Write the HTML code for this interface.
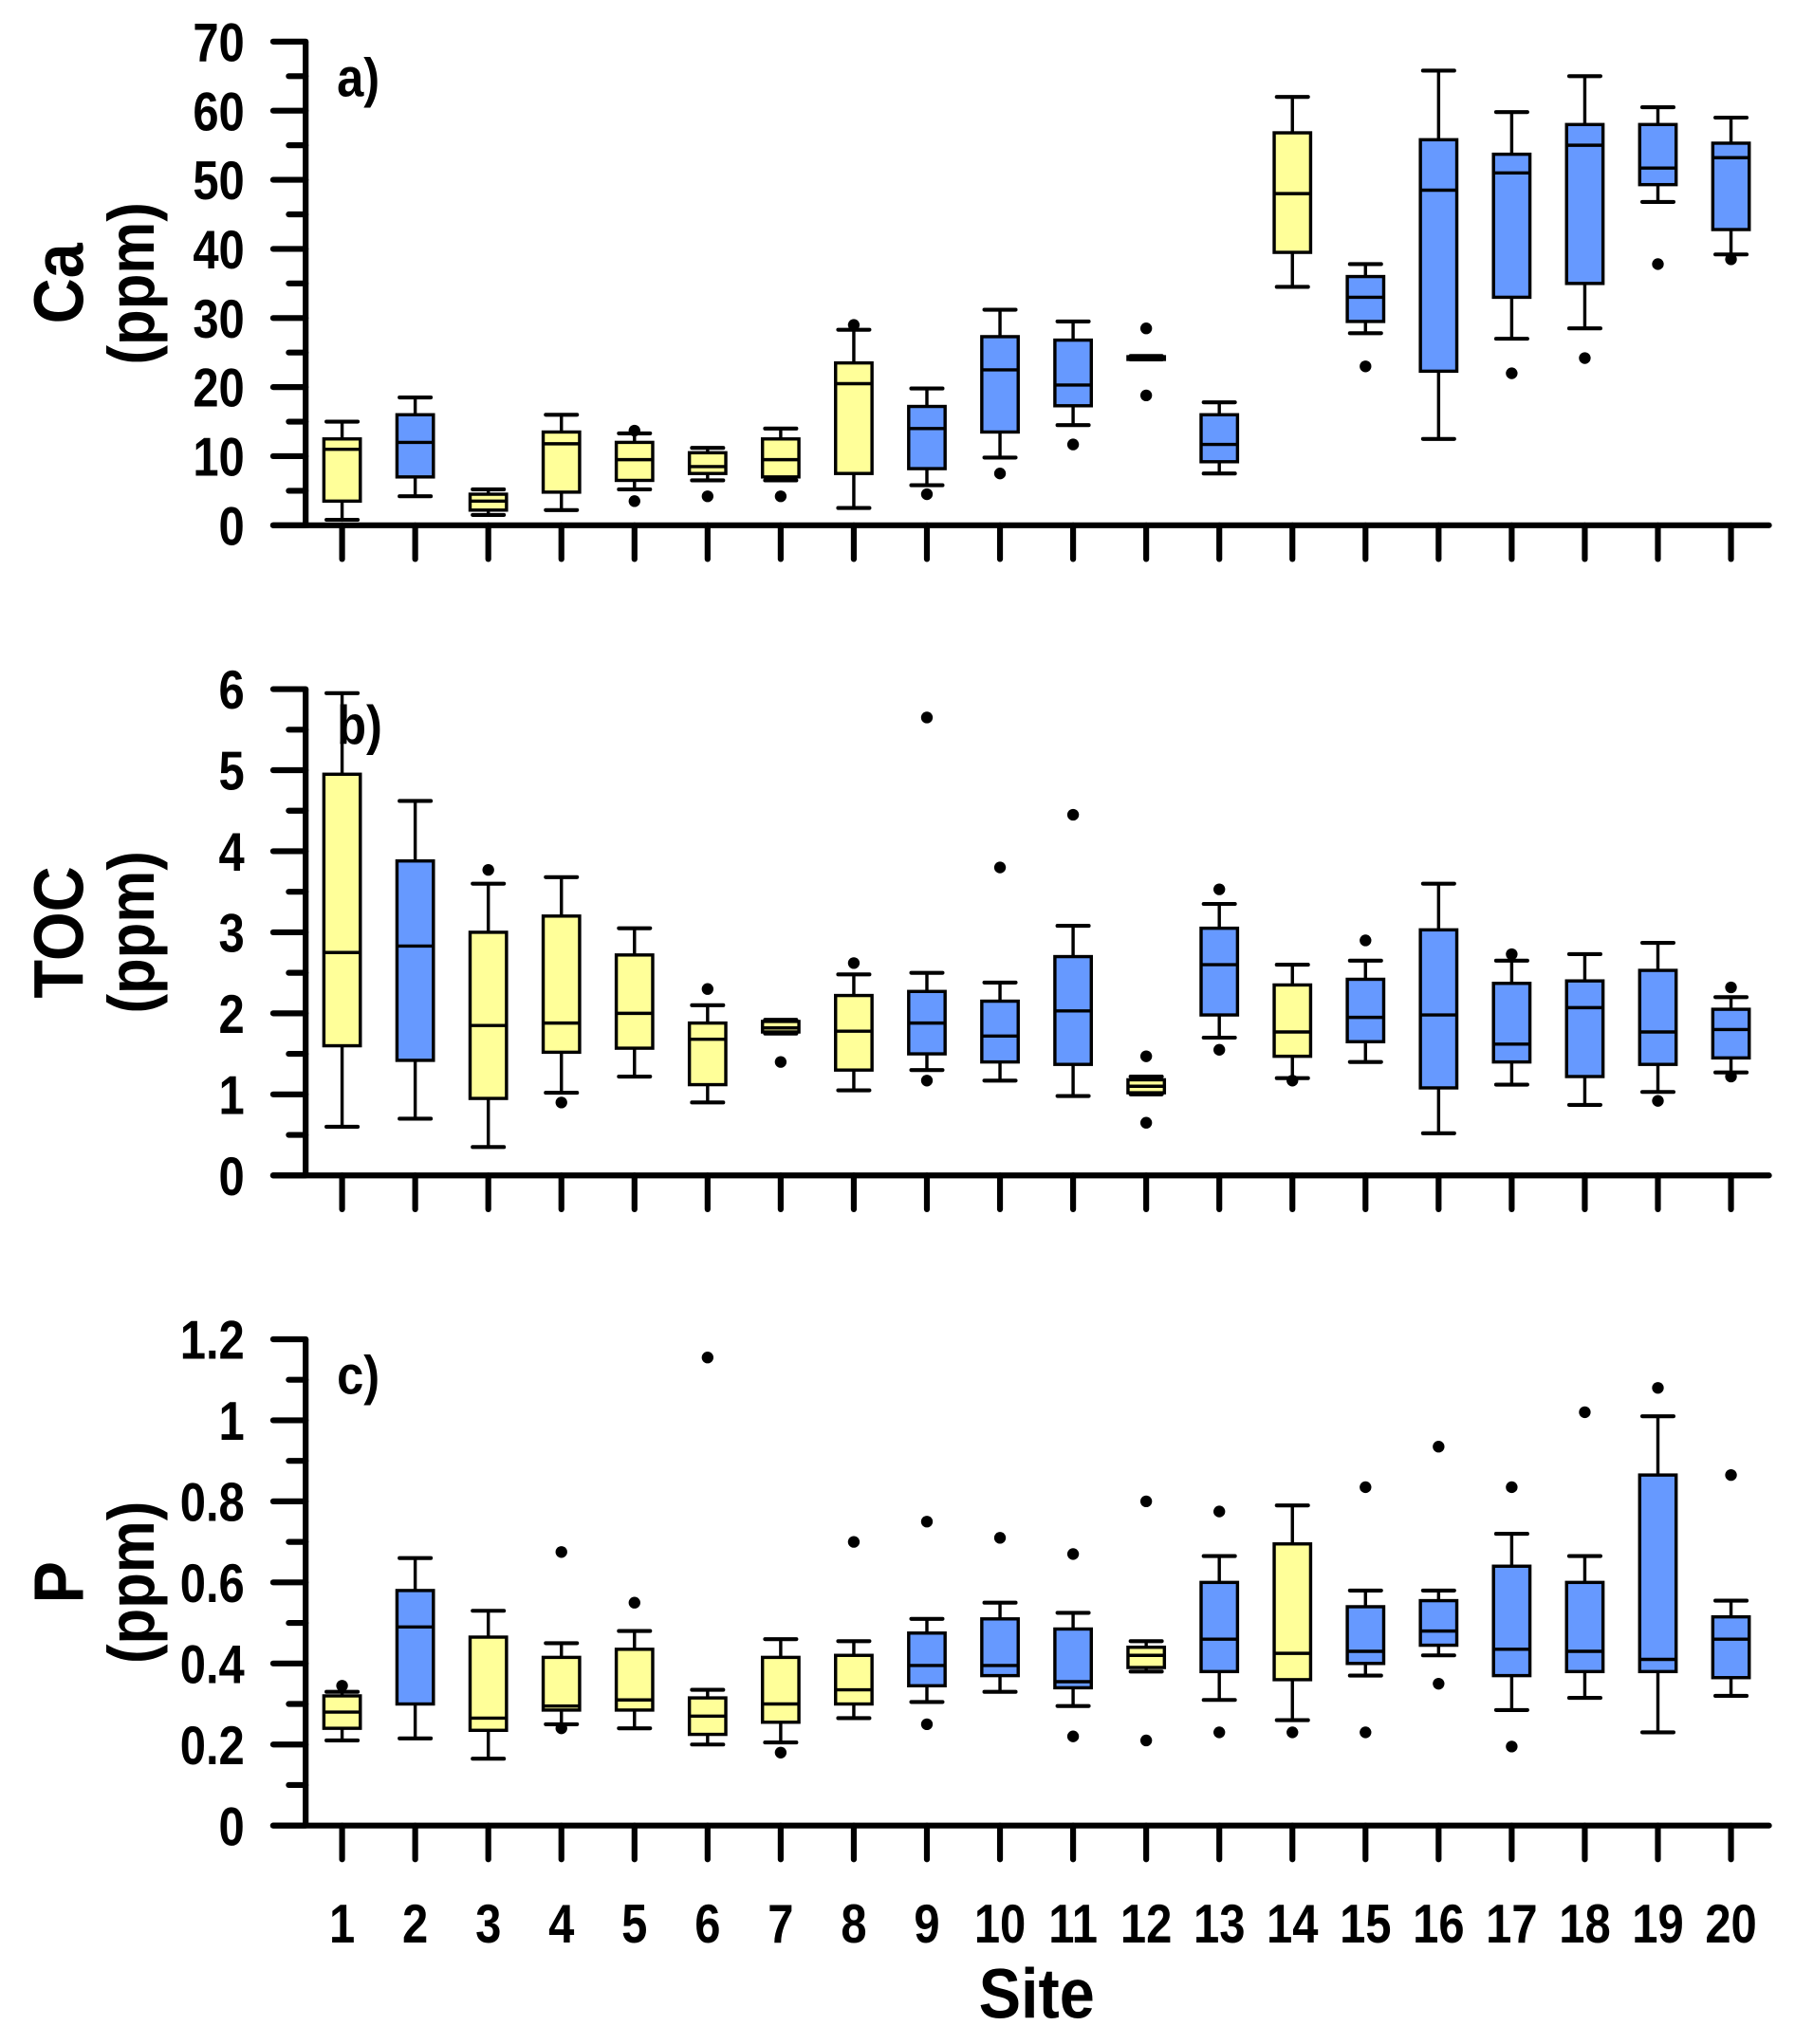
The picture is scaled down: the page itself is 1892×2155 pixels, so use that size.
<!DOCTYPE html>
<html><head><meta charset="utf-8"><style>
html,body{margin:0;padding:0;background:#fff;}
svg{display:block;}
text{font-family:"Liberation Sans",Arial,sans-serif;font-weight:bold;fill:#000;}
</style></head><body>
<svg id="chart" width="1892" height="2155" viewBox="0 0 1380 1572" preserveAspectRatio="none" xmlns="http://www.w3.org/2000/svg"></svg>
<script>
const sites = [1,2,3,4,5,6,7,8,9,10,11,12,13,14,15,16,17,18,19,20];
const siteGroup = ['y','b','y','y','y','y','y','y','b','b','b','y','b','y','b','b','b','b','b','b'];
// [low whisker, q1, median, q3, high whisker]
const caStats = [[0.8,3.5,11,12.5,15],[4.2,7,12,16,18.5],[1.5,2.2,3.5,4.5,5.2],[2.2,4.8,11.8,13.5,16],[5.2,6.5,9.5,12,13.3],[6.5,7.5,8.5,10.5,11.2],[6.5,7,9.5,12.5,14],[2.5,7.5,20.5,23.5,28.3],[5.8,8.2,14,17.2,19.8],[9.8,13.5,22.5,27.3,31.2],[14.5,17.3,20.3,26.8,29.5],[24,24,24.2,24.4,24.5],[7.5,9.2,11.7,16,17.8],[34.5,39.5,48,56.8,62],[27.8,29.5,33,36,37.8],[12.5,22.3,48.5,55.8,65.8],[27,33,51,53.7,59.8],[28.5,35,55,58,65],[46.8,49.3,51.7,58,60.5],[39.2,42.8,53.2,55.3,59]];
const caOut = [[],[],[],[],[3.5,13.7],[4.2],[4.2],[29],[4.5],[7.5],[11.7],[28.5,18.8],[],[],[23],[],[22],[24.2],[37.8],[38.5]];
const tocStats = [[0.6,1.6,2.75,4.95,5.95],[0.7,1.42,2.83,3.88,4.62],[0.35,0.95,1.85,3.0,3.6],[1.02,1.52,1.88,3.2,3.68],[1.22,1.57,2.0,2.72,3.05],[0.9,1.12,1.68,1.88,2.1],[1.75,1.77,1.82,1.9,1.92],[1.05,1.3,1.78,2.22,2.48],[1.3,1.5,1.88,2.27,2.5],[1.17,1.4,1.72,2.15,2.38],[0.98,1.37,2.03,2.7,3.08],[1.0,1.02,1.1,1.18,1.22],[1.7,1.98,2.6,3.05,3.35],[1.2,1.47,1.77,2.35,2.6],[1.4,1.65,1.95,2.42,2.65],[0.52,1.08,1.98,3.03,3.6],[1.12,1.4,1.62,2.37,2.65],[0.87,1.22,2.07,2.4,2.73],[1.03,1.37,1.77,2.53,2.87],[1.27,1.45,1.8,2.05,2.2]];
const tocOut = [[],[],[3.77],[0.9],[],[2.3],[1.4],[2.62],[5.65,1.17],[3.8],[4.45],[1.47,0.65],[3.53,1.55],[1.17],[2.9],[],[2.73],[],[0.92],[2.32,1.22]];
const pStats = [[0.21,0.24,0.28,0.32,0.33],[0.215,0.3,0.49,0.58,0.66],[0.165,0.235,0.265,0.465,0.53],[0.25,0.285,0.295,0.415,0.45],[0.24,0.285,0.31,0.435,0.48],[0.2,0.225,0.27,0.315,0.335],[0.205,0.255,0.3,0.415,0.46],[0.265,0.3,0.335,0.42,0.455],[0.305,0.345,0.395,0.475,0.51],[0.33,0.37,0.395,0.51,0.55],[0.295,0.34,0.355,0.485,0.525],[0.38,0.39,0.42,0.44,0.455],[0.31,0.38,0.46,0.6,0.665],[0.26,0.36,0.425,0.695,0.79],[0.37,0.4,0.43,0.54,0.58],[0.42,0.445,0.48,0.555,0.58],[0.285,0.37,0.435,0.64,0.72],[0.315,0.38,0.43,0.6,0.665],[0.23,0.38,0.41,0.865,1.01],[0.32,0.365,0.46,0.515,0.555]];
const pOut = [[0.345],[],[],[0.675,0.24],[0.55],[1.155],[0.18],[0.7],[0.75,0.25],[0.71],[0.67,0.22],[0.8,0.21],[0.775,0.23],[0.23],[0.835,0.23],[0.935,0.35],[0.835,0.195],[1.02],[1.08],[0.865]];
const caTicks = ['0','10','20','30','40','50','60','70'];
const tocTicks = ['0','1','2','3','4','5','6'];
const pTicks = ['0','0.2','0.4','0.6','0.8','1','1.2'];

const NS='http://www.w3.org/2000/svg';
const svg=document.getElementById('chart');
function mk(tag,attrs,parent){const e=document.createElementNS(NS,tag);for(const k in attrs)e.setAttribute(k,attrs[k]);(parent||svg).appendChild(e);return e;}
function txt(parent,x,y,size,anchor,str,sx,rot){
  const tr=`translate(${x},${y})`+(rot?` rotate(${rot})`:'')+` scale(${sx},1)`;
  const t=mk('text',{x:0,y:0,'text-anchor':anchor,'font-size':size,transform:tr},parent);
  t.textContent=str;return t;
}
const AX=235, XEND=1360;
function xPos(i){return 263+(i-1)*56.2;}
const COL={y:'#FFFF99',b:'#6699FF'};

function panel(name,y0,yTop,maxV,step,ticks,stats,outs,letter,title){
  const g=mk('g',{});
  
  
  const yS=v=>y0-(v/maxV)*(y0-yTop);
  const ya=mk('line',{x1:AX,y1:yTop,x2:AX,y2:y0+2,stroke:'#000','stroke-width':4.5},g);
  
  
  const xa=mk('line',{x1:210,y1:y0,x2:XEND,y2:y0,stroke:'#000','stroke-width':4.5,'stroke-linecap':'round'},g);
  
  
  for(let k=0;k<ticks.length;k++){
    const v=k*step, y=yS(v);
    mk('line',{x1:210,y1:y,x2:AX,y2:y,stroke:'#000','stroke-width':4.5,'stroke-linecap':'round'},g);
    const t=txt(g,188,y+15,42,'end',ticks[k],0.85);
    
    
    if(k<ticks.length-1){
      const ym=yS(v+step/2);
      mk('line',{x1:222,y1:ym,x2:AX,y2:ym,stroke:'#000','stroke-width':4.5,'stroke-linecap':'round'},g);
    }
  }
  sites.forEach(s=>{const x=xPos(s);mk('line',{x1:x,y1:y0,x2:x,y2:y0+26,stroke:'#000','stroke-width':4.5,'stroke-linecap':'round'},g);});
  sites.forEach((s,i)=>{
    const x=xPos(s), st=stats[i], bw=28, cw=24;
    const bg=mk('g',{},g);
    
    
    mk('line',{x1:x,y1:yS(st[0]),x2:x,y2:yS(st[4]),stroke:'#000','stroke-width':2.5},bg);
    mk('line',{x1:x-cw/2,y1:yS(st[0]),x2:x+cw/2,y2:yS(st[0]),stroke:'#000','stroke-width':3,'stroke-linecap':'round'},bg);
    mk('line',{x1:x-cw/2,y1:yS(st[4]),x2:x+cw/2,y2:yS(st[4]),stroke:'#000','stroke-width':3,'stroke-linecap':'round'},bg);
    mk('rect',{x:x-bw/2,y:yS(st[3]),width:bw,height:Math.max(1,yS(st[1])-yS(st[3])),fill:COL[siteGroup[i]],stroke:'#000','stroke-width':2.5},bg);
    mk('line',{x1:x-bw/2,y1:yS(st[2]),x2:x+bw/2,y2:yS(st[2]),stroke:'#000','stroke-width':2.5},bg);
    outs[i].forEach(v=>{
      const c=mk('circle',{cx:x,cy:yS(v),r:4.5,fill:'#000'},bg);
      
      
    });
  });
  const lt=txt(g,259,yTop+42,42,'start',letter,0.88);
  
  
  const cy=(y0+yTop)/2;
  const t1=txt(g,64,cy,54,'middle',title,0.9,-90);
  
  
  const t2=txt(g,118,cy,50,'middle','(ppm)',0.9,-90);
  
  
}
panel('ca',404,32,70,10,caTicks,caStats,caOut,'a)','Ca');
panel('toc',904,530,6,1,tocTicks,tocStats,tocOut,'b)','TOC');
panel('p',1404,1030,1.2,0.2,pTicks,pStats,pOut,'c)','P');
sites.forEach(s=>{
  const t=txt(svg,xPos(s),1494,42,'middle',String(s),0.85);
  
  
});
const xt=txt(svg,797,1552,54,'middle','Site',0.9);


</script>
</body></html>
